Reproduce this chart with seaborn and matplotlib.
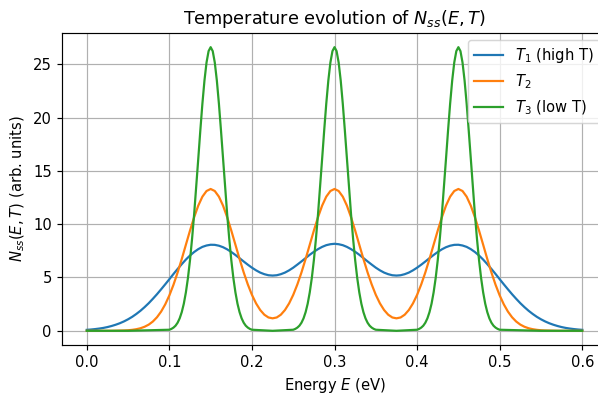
import numpy as np
import seaborn as sns
import matplotlib
matplotlib.use("Agg")
import matplotlib.pyplot as plt

# energy grid (eV) shared by the T1 and T2 curves
energy = [
    0.000, 0.005, 0.010, 0.015, 0.020, 0.025, 0.030, 0.035, 0.040, 0.045,
    0.050, 0.055, 0.060, 0.065, 0.070, 0.075, 0.080, 0.085, 0.090, 0.095,
    0.100, 0.105, 0.110, 0.115, 0.120, 0.125, 0.130, 0.135, 0.140, 0.145,
    0.150, 0.155, 0.160, 0.165, 0.170, 0.175, 0.180, 0.185, 0.190, 0.195,
    0.200, 0.205, 0.210, 0.215, 0.220, 0.225, 0.230, 0.235, 0.240, 0.245,
    0.250, 0.255, 0.260, 0.265, 0.270, 0.275, 0.280, 0.285, 0.290, 0.295,
    0.300, 0.305, 0.310, 0.315, 0.320, 0.325, 0.330, 0.335, 0.340, 0.345,
    0.350, 0.355, 0.360, 0.365, 0.370, 0.375, 0.380, 0.385, 0.390, 0.395,
    0.400, 0.405, 0.410, 0.415, 0.420, 0.425, 0.430, 0.435, 0.440, 0.445,
    0.450, 0.455, 0.460, 0.465, 0.470, 0.475, 0.480, 0.485, 0.490, 0.495,
    0.500, 0.505, 0.510, 0.515, 0.520, 0.525, 0.530, 0.535, 0.540, 0.545,
    0.550, 0.555, 0.560, 0.565, 0.570, 0.575, 0.580, 0.585, 0.590, 0.595,
    0.600,
]

# T1 (high T) - broad peaks
n_t1 = [
    0.09, 0.12, 0.16, 0.21, 0.27, 0.35, 0.45, 0.57, 0.71, 0.88,
    1.08, 1.31, 1.58, 1.88, 2.22, 2.59, 3.00, 3.43, 3.89, 4.36,
    4.84, 5.33, 5.80, 6.25, 6.68, 7.06, 7.39, 7.66, 7.87, 8.00,
    8.07, 8.06, 7.98, 7.84, 7.64, 7.39, 7.11, 6.81, 6.50, 6.20,
    5.92, 5.67, 5.46, 5.31, 5.21, 5.18, 5.21, 5.31, 5.46, 5.67,
    5.92, 6.21, 6.51, 6.82, 7.13, 7.41, 7.66, 7.87, 8.03, 8.12,
    8.16, 8.12, 8.03, 7.87, 7.66, 7.41, 7.13, 6.82, 6.51, 6.21,
    5.92, 5.67, 5.46, 5.31, 5.21, 5.18, 5.21, 5.31, 5.46, 5.67,
    5.92, 6.20, 6.50, 6.81, 7.11, 7.39, 7.64, 7.84, 7.98, 8.06,
    8.07, 8.00, 7.87, 7.66, 7.39, 7.06, 6.68, 6.25, 5.80, 5.33,
    4.84, 4.36, 3.89, 3.43, 3.00, 2.59, 2.22, 1.88, 1.58, 1.31,
    1.08, 0.88, 0.71, 0.57, 0.45, 0.35, 0.27, 0.21, 0.16, 0.12,
    0.09,
]

# T2 - intermediate peaks
n_t2 = [
    0.00, 0.00, 0.00, 0.00, 0.00, 0.00, 0.00, 0.01, 0.02, 0.03,
    0.05, 0.09, 0.15, 0.24, 0.38, 0.58, 0.87, 1.27, 1.80, 2.48,
    3.32, 4.32, 5.47, 6.73, 8.07, 9.40, 10.65, 11.74, 12.58, 13.11,
    13.30, 13.11, 12.58, 11.74, 10.65, 9.40, 8.07, 6.74, 5.48, 4.35,
    3.37, 2.57, 1.95, 1.51, 1.25, 1.17, 1.25, 1.51, 1.95, 2.57,
    3.37, 4.35, 5.48, 6.74, 8.07, 9.40, 10.65, 11.74, 12.58, 13.11,
    13.30, 13.11, 12.58, 11.74, 10.65, 9.40, 8.07, 6.74, 5.48, 4.35,
    3.37, 2.57, 1.95, 1.51, 1.25, 1.17, 1.25, 1.51, 1.95, 2.57,
    3.37, 4.35, 5.48, 6.74, 8.07, 9.40, 10.65, 11.74, 12.58, 13.11,
    13.30, 13.11, 12.58, 11.74, 10.65, 9.40, 8.07, 6.73, 5.47, 4.32,
    3.32, 2.48, 1.80, 1.27, 0.87, 0.58, 0.38, 0.24, 0.15, 0.09,
    0.05, 0.03, 0.02, 0.01, 0.00, 0.00, 0.00, 0.00, 0.00, 0.00,
    0.00,
]

# T3 (low T) needs a finer grid around the narrow peaks
energy_t3 = [
    0.0, 0.05,
    0.1, 0.1025, 0.105, 0.1075, 0.11, 0.1125, 0.115, 0.1175, 0.12, 0.1225,
    0.125, 0.1275, 0.13, 0.1325, 0.135, 0.1375, 0.14, 0.1425, 0.145, 0.1475,
    0.15, 0.1525, 0.155, 0.1575, 0.16, 0.1625, 0.165, 0.1675, 0.17, 0.1725,
    0.175, 0.1775, 0.18, 0.1825, 0.185, 0.1875, 0.19, 0.1925, 0.195, 0.1975,
    0.2,
    0.225,
    0.25, 0.2525, 0.255, 0.2575, 0.26, 0.2625, 0.265, 0.2675, 0.27, 0.2725,
    0.275, 0.2775, 0.28, 0.2825, 0.285, 0.2875, 0.29, 0.2925, 0.295, 0.2975,
    0.3, 0.3025, 0.305, 0.3075, 0.31, 0.3125, 0.315, 0.3175, 0.32, 0.3225,
    0.325, 0.3275, 0.33, 0.3325, 0.335, 0.3375, 0.34, 0.3425, 0.345, 0.3475,
    0.35,
    0.375,
    0.4, 0.4025, 0.405, 0.4075, 0.41, 0.4125, 0.415, 0.4175, 0.42, 0.4225,
    0.425, 0.4275, 0.43, 0.4325, 0.435, 0.4375, 0.44, 0.4425, 0.445, 0.4475,
    0.45, 0.4525, 0.455, 0.4575, 0.46, 0.4625, 0.465, 0.4675, 0.47, 0.4725,
    0.475, 0.4775, 0.48, 0.4825, 0.485, 0.4875, 0.49, 0.4925, 0.495, 0.4975,
    0.5,
    0.55, 0.6,
]

n_t3 = [
    0.00, 0.00,
    0.10, 0.18, 0.30, 0.48, 0.76, 1.17, 1.75, 2.54, 3.60, 4.95,
    6.63, 8.63, 10.93, 13.47, 16.13, 18.80, 21.30, 23.47, 25.16, 26.23,
    26.60, 26.23, 25.16, 23.47, 21.30, 18.80, 16.13, 13.47, 10.93, 8.63,
    6.63, 4.95, 3.60, 2.54, 1.75, 1.17, 0.76, 0.48, 0.30, 0.18,
    0.10,
    0.00,
    0.10, 0.18, 0.30, 0.48, 0.76, 1.17, 1.75, 2.54, 3.60, 4.95,
    6.63, 8.63, 10.93, 13.47, 16.13, 18.80, 21.30, 23.47, 25.16, 26.23,
    26.60, 26.23, 25.16, 23.47, 21.30, 18.80, 16.13, 13.47, 10.93, 8.63,
    6.63, 4.95, 3.60, 2.54, 1.75, 1.17, 0.76, 0.48, 0.30, 0.18,
    0.10,
    0.00,
    0.10, 0.18, 0.30, 0.48, 0.76, 1.17, 1.75, 2.54, 3.60, 4.95,
    6.63, 8.63, 10.93, 13.47, 16.13, 18.80, 21.30, 23.47, 25.16, 26.23,
    26.60, 26.23, 25.16, 23.47, 21.30, 18.80, 16.13, 13.47, 10.93, 8.63,
    6.63, 4.95, 3.60, 2.54, 1.75, 1.17, 0.76, 0.48, 0.30, 0.18,
    0.10,
    0.00, 0.00,
]

labels = [r"$T_1$ (high T)", r"$T_2$", r"$T_3$ (low T)"]

DPI = 106
fig = plt.figure(figsize=(598 / DPI, 394 / DPI), dpi=DPI)
# axes reach past the right edge, as in the reference image
ax = fig.add_axes([0.1037, 0.1244, 0.9114, 0.7919])

sns.lineplot(x=energy, y=n_t1, ax=ax, label=labels[0], color="C0", linewidth=1.5)
sns.lineplot(x=energy, y=n_t2, ax=ax, label=labels[1], color="C1", linewidth=1.5)
sns.lineplot(x=energy_t3, y=n_t3, ax=ax, label=labels[2], color="C2", linewidth=1.5)

ax.set_xlabel(r"Energy $E$ (eV)")
ax.set_ylabel(r"$N_{ss}(E,T)$ (arb. units)")
ax.set_title(r"Temperature evolution of $N_{ss}(E,T)$")
ax.set_xticks([0.0, 0.1, 0.2, 0.3, 0.4, 0.5, 0.6])
ax.set_yticks([0, 5, 10, 15, 20, 25])
ax.grid(True)
ax.legend(loc="upper right")

fig.savefig("out.png", dpi=DPI)
